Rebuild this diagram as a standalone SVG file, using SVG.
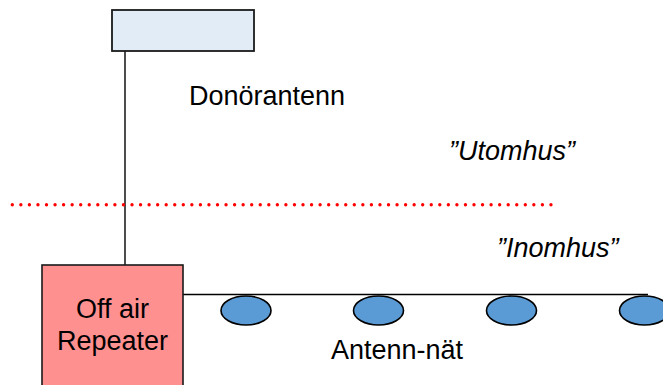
<svg xmlns="http://www.w3.org/2000/svg" width="663" height="385" viewBox="0 0 663 385">
<style>
.t{font-family:"Liberation Sans",Arial,sans-serif;font-size:27px;fill:#000}
.i{font-style:italic}
.ln{stroke:#000;stroke-width:1.4;fill:none}
.ant{fill:#5B9BD5;stroke:#000;stroke-width:1.6}
</style>
<rect width="663" height="385" fill="#fff"/>
<g id="connectors">
<line class="ln" x1="125" y1="51" x2="125" y2="265"/>
<line class="ln" x1="183" y1="294.5" x2="648" y2="294.5"/>
<line x1="12.3" y1="204.7" x2="556" y2="204.7" stroke="#FF0000" stroke-width="3.4" stroke-linecap="round" stroke-dasharray="0 8.55"/>
</g>
<g id="donor">
<rect x="112" y="10" width="142" height="41" fill="#E1ECF6" stroke="#1a1a1a" stroke-width="1.8"/>
</g>
<g id="repeater">
<rect x="42" y="265" width="141" height="130" fill="#FF9090" stroke="#1a1a1a" stroke-width="1.6"/>
<text class="t" x="112.5" y="318" text-anchor="middle">Off air</text>
<text class="t" x="112.5" y="350" text-anchor="middle">Repeater</text>
</g>
<g id="ant1"><ellipse class="ant" cx="246" cy="310.5" rx="25" ry="14.5"/></g>
<g id="ant2"><ellipse class="ant" cx="378.5" cy="310.5" rx="25" ry="14.5"/></g>
<g id="ant3"><ellipse class="ant" cx="511.5" cy="310.5" rx="25" ry="14.5"/></g>
<g id="ant4"><ellipse class="ant" cx="644.5" cy="310.5" rx="25" ry="14.5"/></g>
<g id="labels">
<text class="t" x="189" y="105">Donörantenn</text>
<text class="t i" x="449" y="160">”Utomhus”</text>
<text class="t i" x="497" y="256.5">”Inomhus”</text>
<text class="t" x="331" y="359">Antenn-nät</text>
</g>
</svg>
